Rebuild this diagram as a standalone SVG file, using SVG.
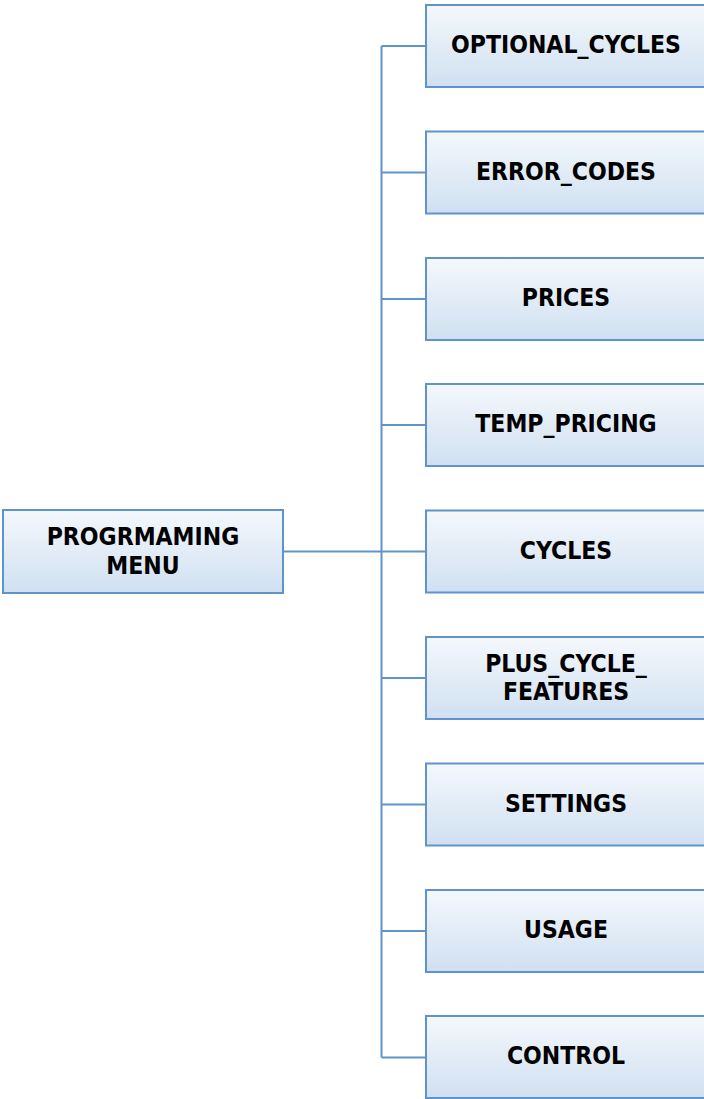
<svg xmlns="http://www.w3.org/2000/svg" width="704" height="1099" viewBox="0 0 704 1099">
<defs>
<linearGradient id="g" x1="0" y1="0" x2="0" y2="1">
<stop offset="0" stop-color="#f4f8fc"/>
<stop offset="1" stop-color="#d0e0f1"/>
</linearGradient>
</defs>
<style>
.box{fill:url(#g);stroke:#5f93cc;stroke-width:2}
.t{font-family:"DejaVu Sans Condensed","DejaVu Sans",Verdana,sans-serif;font-stretch:condensed;font-weight:bold;font-size:24.5px;fill:#000;text-anchor:middle}
.c{fill:none;stroke:#5f93cc;stroke-width:2}
</style>
<rect width="704" height="1099" fill="#fff"/>
<g id="connectors">
<path class="c" d="M283 551.5H381.5M381.5 46V1057.5"/>
<path class="c" d="M381.5 46H426M381.5 172.5H426M381.5 299H426M381.5 425H426M381.5 551.5H426M381.5 678H426M381.5 804.5H426M381.5 931H426M381.5 1057.5H426"/>
</g>
<g id="root"><rect class="box" x="3" y="510" width="280" height="83"/><text class="t" x="143" y="545">PROGRMAMING</text><text class="t" x="143" y="574">MENU</text></g>
<g id="n1"><rect class="box" x="426" y="5" width="284" height="82"/><text class="t" x="566" y="53">OPTIONAL_CYCLES</text></g>
<g id="n2"><rect class="box" x="426" y="131.5" width="284" height="82"/><text class="t" x="566" y="179.5">ERROR_CODES</text></g>
<g id="n3"><rect class="box" x="426" y="258" width="284" height="82"/><text class="t" x="566" y="306">PRICES</text></g>
<g id="n4"><rect class="box" x="426" y="384" width="284" height="82"/><text class="t" x="566" y="432">TEMP_PRICING</text></g>
<g id="n5"><rect class="box" x="426" y="510.5" width="284" height="82"/><text class="t" x="566" y="558.5">CYCLES</text></g>
<g id="n6"><rect class="box" x="426" y="637" width="284" height="82"/><text class="t" x="566" y="671.5">PLUS_CYCLE_</text><text class="t" x="566" y="699.5">FEATURES</text></g>
<g id="n7"><rect class="box" x="426" y="763.5" width="284" height="82"/><text class="t" x="566" y="811.5">SETTINGS</text></g>
<g id="n8"><rect class="box" x="426" y="890" width="284" height="82"/><text class="t" x="566" y="938">USAGE</text></g>
<g id="n9"><rect class="box" x="426" y="1016" width="284" height="82"/><text class="t" x="566" y="1064">CONTROL</text></g>
</svg>
